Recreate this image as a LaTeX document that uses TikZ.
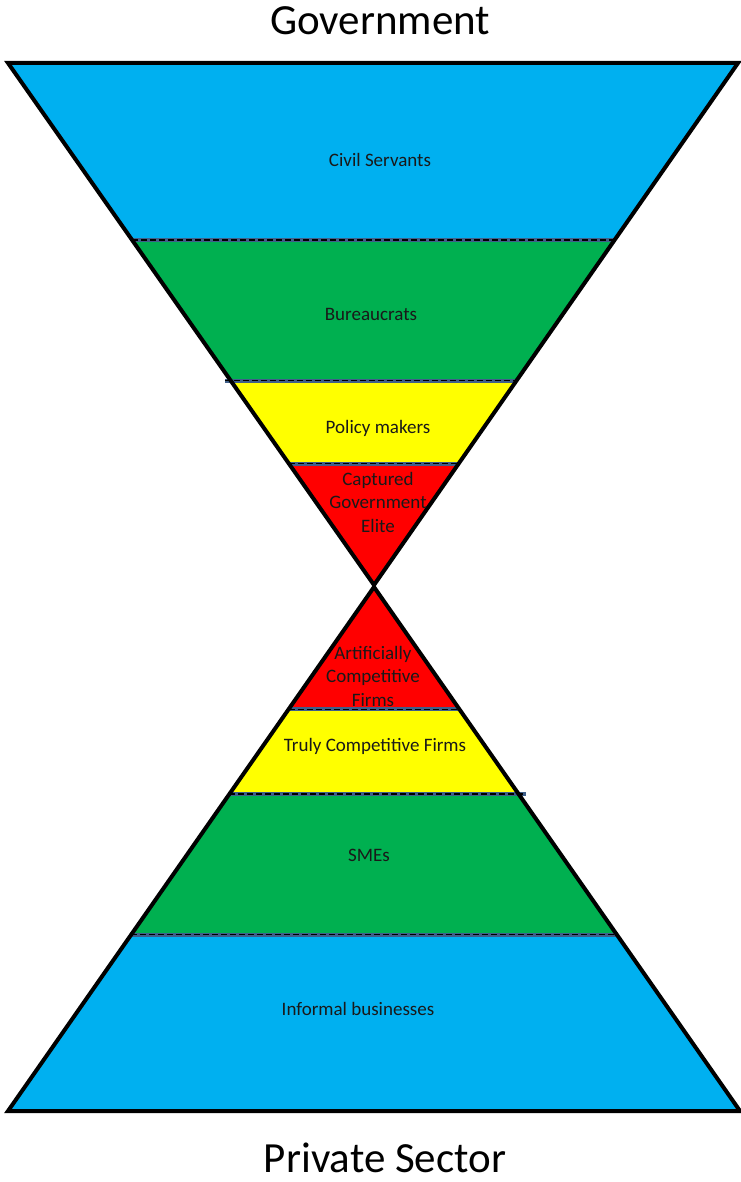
\documentclass[tikz,border=0pt]{standalone}
\usepackage{fontspec}
\setmainfont{Carlito}
\usetikzlibrary{calc}
\definecolor{cblue}{HTML}{00B0F0}
\definecolor{cgreen}{HTML}{00B050}
\definecolor{cyellow}{HTML}{FFFF00}
\definecolor{cred}{HTML}{FF0000}
\definecolor{csteel}{HTML}{3F5F8A}
\tikzset{
  sepline/.style={draw=csteel, line width=3.5pt, postaction={draw=black, line width=1.1pt, dash pattern=on 6pt off 3pt}},
  edge/.style={draw=black, line width=4pt, line join=miter},
  lab/.style={font=\fontsize{19}{23.5}\selectfont, align=center, inner sep=0pt, text=black!90},
  ttl/.style={font=\fontsize{43}{50}\selectfont, inner sep=0pt}
}
\begin{document}
\begin{tikzpicture}[x=1pt,y=-1pt]
\useasboundingbox (0,0) rectangle (740,1182);
\coordinate (TL) at (8,63);
\coordinate (TR) at (738,63);
\coordinate (A1) at (374,585);
\coordinate (A2) at (374,587);
\coordinate (BL) at (8,1111);
\coordinate (BR) at (740,1111);
% top triangle partition points
\coordinate (l1) at ($(TL)!0.339!(A1)$);
\coordinate (r1) at ($(TR)!0.339!(A1)$);
\coordinate (l2) at ($(TL)!0.609!(A1)$);
\coordinate (r2) at ($(TR)!0.609!(A1)$);
\coordinate (l3) at ($(TL)!0.768!(A1)$);
\coordinate (r3) at ($(TR)!0.768!(A1)$);
% bottom triangle partition points
\coordinate (m1) at ($(A2)!0.233!(BL)$);
\coordinate (n1) at ($(A2)!0.233!(BR)$);
\coordinate (m2) at ($(A2)!0.395!(BL)$);
\coordinate (n2) at ($(A2)!0.395!(BR)$);
\coordinate (m3) at ($(A2)!0.664!(BL)$);
\coordinate (n3) at ($(A2)!0.664!(BR)$);
% fills
\fill[cblue] (TL) -- (TR) -- (r1) -- (l1) -- cycle;
\fill[cgreen] (l1) -- (r1) -- (r2) -- (l2) -- cycle;
\fill[cyellow] (l2) -- (r2) -- (r3) -- (l3) -- cycle;
\fill[cred] (l3) -- (r3) -- (A1) -- cycle;
\fill[cred] (A2) -- (n1) -- (m1) -- cycle;
\fill[cyellow] (m1) -- (n1) -- (n2) -- (m2) -- cycle;
\fill[cgreen] (m2) -- (n2) -- (n3) -- (m3) -- cycle;
\fill[cblue] (m3) -- (n3) -- (BR) -- (BL) -- cycle;
% separators
\draw[sepline] (l1) -- (r1);
\draw[sepline, shorten <=-6pt] (l2) -- (r2);
\draw[sepline] (l3) -- (r3);
\draw[sepline] (m1) -- (n1);
\draw[sepline, shorten >=-7pt] (m2) -- (n2);
\draw[sepline] (m3) -- (n3);
% outlines
\draw[edge] (TL) -- (TR) -- (A1) -- cycle;
\draw[edge] (A2) -- (BR) -- (BL) -- cycle;
% labels
\node[lab] (cs) at (380,160) {Civil Servants};
\node[lab] (bu) at (371,314) {Bureaucrats};
\node[lab] (pm) at (378,428) {Policy makers};
\node[lab] (cg) at (378,502) {Captured\\Government\\Elite};
\node[lab] (ac) at (373,676) {Artificially\\Competitive\\Firms};
\node[lab] (tc) at (375,746) {Truly Competitive Firms};
\node[lab] (sm) at (369,855) {SMEs};
\node[lab] (ib) at (358,1009) {Informal businesses};
\node[ttl] (gov) at (380,21) {Government};
\node[ttl] (ps) at (385,1158) {Private Sector};
\end{tikzpicture}
\end{document}
